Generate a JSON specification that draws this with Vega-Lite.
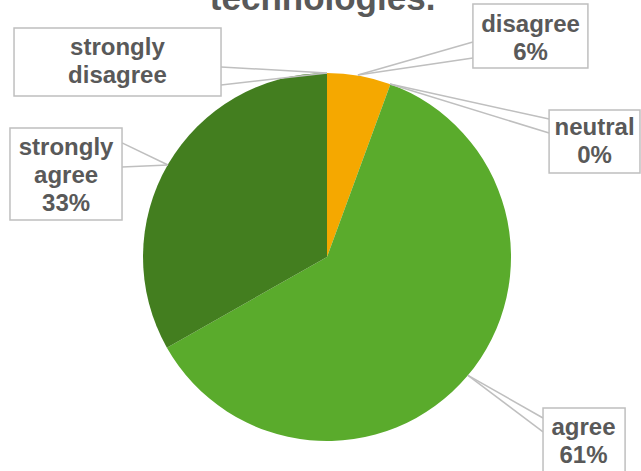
{
  "$schema": "https://vega.github.io/schema/vega-lite/v6.json",
  "width": 641,
  "height": 471,
  "autosize": {"type": "none"},
  "padding": 0,
  "background": "white",
  "config": {"view": {"stroke": null}},
  "datasets": {
    "slices": [
      {"category": "strongly disagree", "value": 0, "rank": 1},
      {"category": "disagree", "value": 5.6, "rank": 2},
      {"category": "neutral", "value": 0, "rank": 3},
      {"category": "agree", "value": 61.2, "rank": 4},
      {"category": "strongly agree", "value": 33.2, "rank": 5}
    ],
    "callouts": [
      {"category": "strongly disagree", "label": "strongly\ndisagree", "tx": -1.139, "ty": 1.136, "bx1": -1.701, "bx2": -0.576, "by1": 1.245, "by2": 0.875, "ax": 0.0, "ay": 1.0, "ex": -0.576, "ey1": 1.033, "ey2": 0.935},
      {"category": "disagree", "label": "disagree\n6%", "tx": 1.106, "ty": 1.261, "bx1": 0.793, "bx2": 1.418, "by1": 1.375, "by2": 1.027, "ax": 0.168, "ay": 0.989, "ex": 0.793, "ey1": 1.168, "ey2": 1.082},
      {"category": "neutral", "label": "neutral\n0%", "tx": 1.454, "ty": 0.701, "bx1": 1.207, "bx2": 1.701, "by1": 0.799, "by2": 0.457, "ax": 0.342, "ay": 0.94, "ex": 1.207, "ey1": 0.75, "ey2": 0.674},
      {"category": "agree", "label": "agree\n61%", "tx": 1.394, "ty": -0.929, "bx1": 1.174, "bx2": 1.620, "by1": -0.821, "by2": -1.18, "ax": 0.766, "ay": -0.643, "ex": 1.174, "ey1": -0.875, "ey2": -0.95},
      {"category": "strongly agree", "label": "strongly\nagree\n33%", "tx": -1.418, "ty": 0.592, "bx1": -1.723, "bx2": -1.114, "by1": 0.701, "by2": 0.201, "ax": -0.864, "ay": 0.5, "ex": -1.114, "ey1": 0.62, "ey2": 0.489}
    ],
    "titles": [{"text": "technologies.", "x": -0.024, "y": 1.345}]
  },
  "layer": [
    {
      "data": {"name": "slices"},
      "mark": {"type": "arc", "outerRadius": 184},
      "encoding": {
        "theta": {"field": "value", "type": "quantitative", "stack": true},
        "order": {"field": "rank", "type": "quantitative"},
        "color": {
          "field": "category", "type": "nominal", "legend": null,
          "scale": {
            "domain": ["strongly disagree", "disagree", "neutral", "agree", "strongly agree"],
            "range": ["#7F7F7F", "#F5A800", "#A5A5A5", "#5AAB2C", "#437E1F"]
          }
        },
        "x": {"datum": 0, "type": "quantitative", "axis": null, "scale": {"domain": [-1.7772, 1.7065], "nice": false, "zero": false}},
        "y": {"datum": 0, "type": "quantitative", "axis": null, "scale": {"domain": [-1.163, 1.3967], "nice": false, "zero": false}}
      }
    },
    {
      "data": {"name": "callouts"},
      "mark": {"type": "rule", "stroke": "#BFBFBF", "strokeWidth": 1.5},
      "encoding": {
        "x": {"field": "ax", "type": "quantitative", "axis": null, "scale": {"domain": [-1.7772, 1.7065], "nice": false, "zero": false}},
        "y": {"field": "ay", "type": "quantitative", "axis": null, "scale": {"domain": [-1.163, 1.3967], "nice": false, "zero": false}},
        "x2": {"field": "ex"},
        "y2": {"field": "ey1"}
      }
    },
    {
      "data": {"name": "callouts"},
      "mark": {"type": "rule", "stroke": "#BFBFBF", "strokeWidth": 1.5},
      "encoding": {
        "x": {"field": "ax", "type": "quantitative", "axis": null, "scale": {"domain": [-1.7772, 1.7065], "nice": false, "zero": false}},
        "y": {"field": "ay", "type": "quantitative", "axis": null, "scale": {"domain": [-1.163, 1.3967], "nice": false, "zero": false}},
        "x2": {"field": "ex"},
        "y2": {"field": "ey2"}
      }
    },
    {
      "data": {"name": "callouts"},
      "mark": {"type": "rect", "fill": "white", "stroke": "#BFBFBF", "strokeWidth": 1.5},
      "encoding": {
        "x": {"field": "bx1", "type": "quantitative", "axis": null, "scale": {"domain": [-1.7772, 1.7065], "nice": false, "zero": false}},
        "x2": {"field": "bx2"},
        "y": {"field": "by1", "type": "quantitative", "axis": null, "scale": {"domain": [-1.163, 1.3967], "nice": false, "zero": false}},
        "y2": {"field": "by2"}
      }
    },
    {
      "data": {"name": "callouts"},
      "mark": {"type": "text", "font": "Liberation Sans", "fontWeight": "bold", "fontSize": 24, "lineHeight": 28, "lineBreak": "\n", "align": "center", "baseline": "middle", "color": "#595959"},
      "encoding": {
        "x": {"field": "tx", "type": "quantitative", "axis": null, "scale": {"domain": [-1.7772, 1.7065], "nice": false, "zero": false}},
        "y": {"field": "ty", "type": "quantitative", "axis": null, "scale": {"domain": [-1.163, 1.3967], "nice": false, "zero": false}},
        "text": {"field": "label", "type": "nominal"}
      }
    },
    {
      "data": {"name": "titles"},
      "mark": {"type": "text", "font": "Liberation Sans", "fontWeight": "bold", "fontSize": 35, "align": "center", "baseline": "alphabetic", "color": "#595959"},
      "encoding": {
        "x": {"field": "x", "type": "quantitative", "axis": null, "scale": {"domain": [-1.7772, 1.7065], "nice": false, "zero": false}},
        "y": {"field": "y", "type": "quantitative", "axis": null, "scale": {"domain": [-1.163, 1.3967], "nice": false, "zero": false}},
        "text": {"field": "text", "type": "nominal"}
      }
    }
  ]
}
